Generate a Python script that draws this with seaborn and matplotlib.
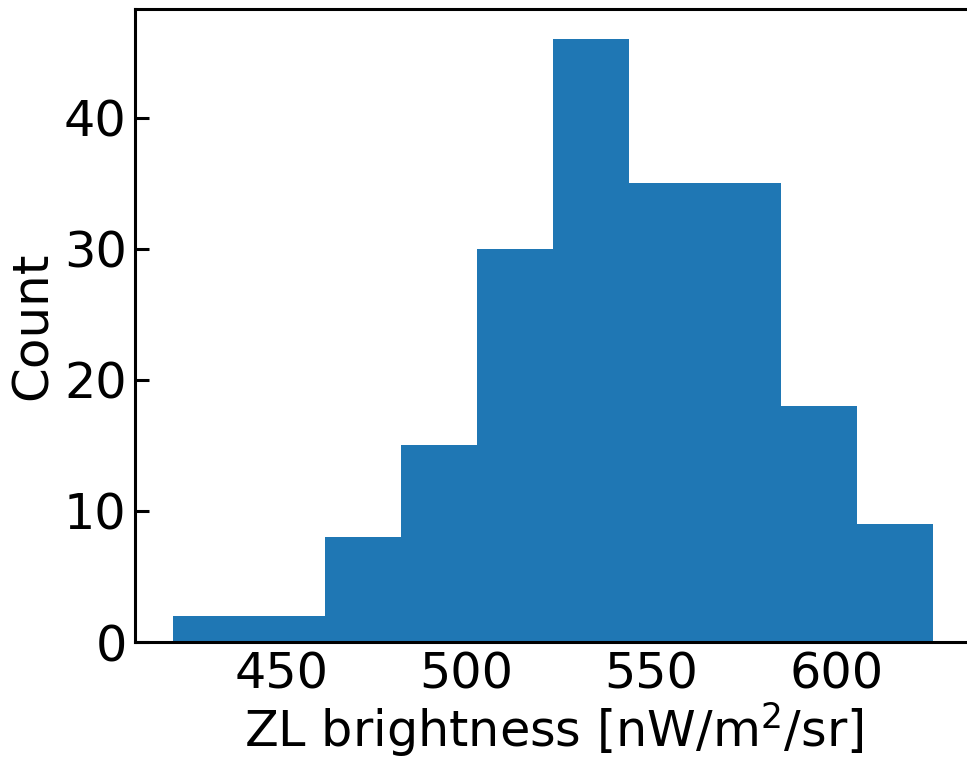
import numpy as np
import pandas as pd
import matplotlib
matplotlib.use("Agg")
import matplotlib.pyplot as plt
import seaborn as sns

# Histogram of zodiacal-light brightness: 10 equal-width bins
bin_low = 420.8
bin_high = 626.2
n_bins = 10
counts = [2, 2, 8, 15, 30, 46, 35, 35, 18, 9]

edges = np.linspace(bin_low, bin_high, n_bins + 1)
centers = 0.5 * (edges[:-1] + edges[1:])
df = pd.DataFrame({"zl": centers, "n": counts})

sns.set_style("ticks")
plt.rcParams["font.family"] = ["DejaVu Sans"]
plt.rcParams["text.color"] = "black"
plt.rcParams["axes.labelcolor"] = "black"
plt.rcParams["xtick.color"] = "black"
plt.rcParams["ytick.color"] = "black"

fig = plt.figure(figsize=(9.67, 7.58), dpi=100)
ax = fig.add_axes([0.1396, 0.153, 0.865, 0.835])

sns.histplot(data=df, x="zl", weights="n", bins=list(edges), color="#1f77b4",
             alpha=1.0, linewidth=0, ax=ax)

ax.set_xlim(410.5, 636.5)
ax.set_ylim(0, 48.3)
ax.set_xticks([450, 500, 550, 600])
ax.set_yticks([0, 10, 20, 30, 40])

ax.set_xlabel("ZL brightness [nW/m$^2$/sr]", fontsize=35.5, labelpad=1.5)
ax.set_ylabel("Count", fontsize=36, labelpad=5)
ax.tick_params(axis="both", direction="in", labelsize=35.5,
               length=10, width=2.2, pad=6, colors="black")
for side in ["left", "bottom", "top", "right"]:
    ax.spines[side].set_visible(True)
    ax.spines[side].set_linewidth(2.2)
    ax.spines[side].set_color("black")

fig.savefig("out.png", dpi=100)
